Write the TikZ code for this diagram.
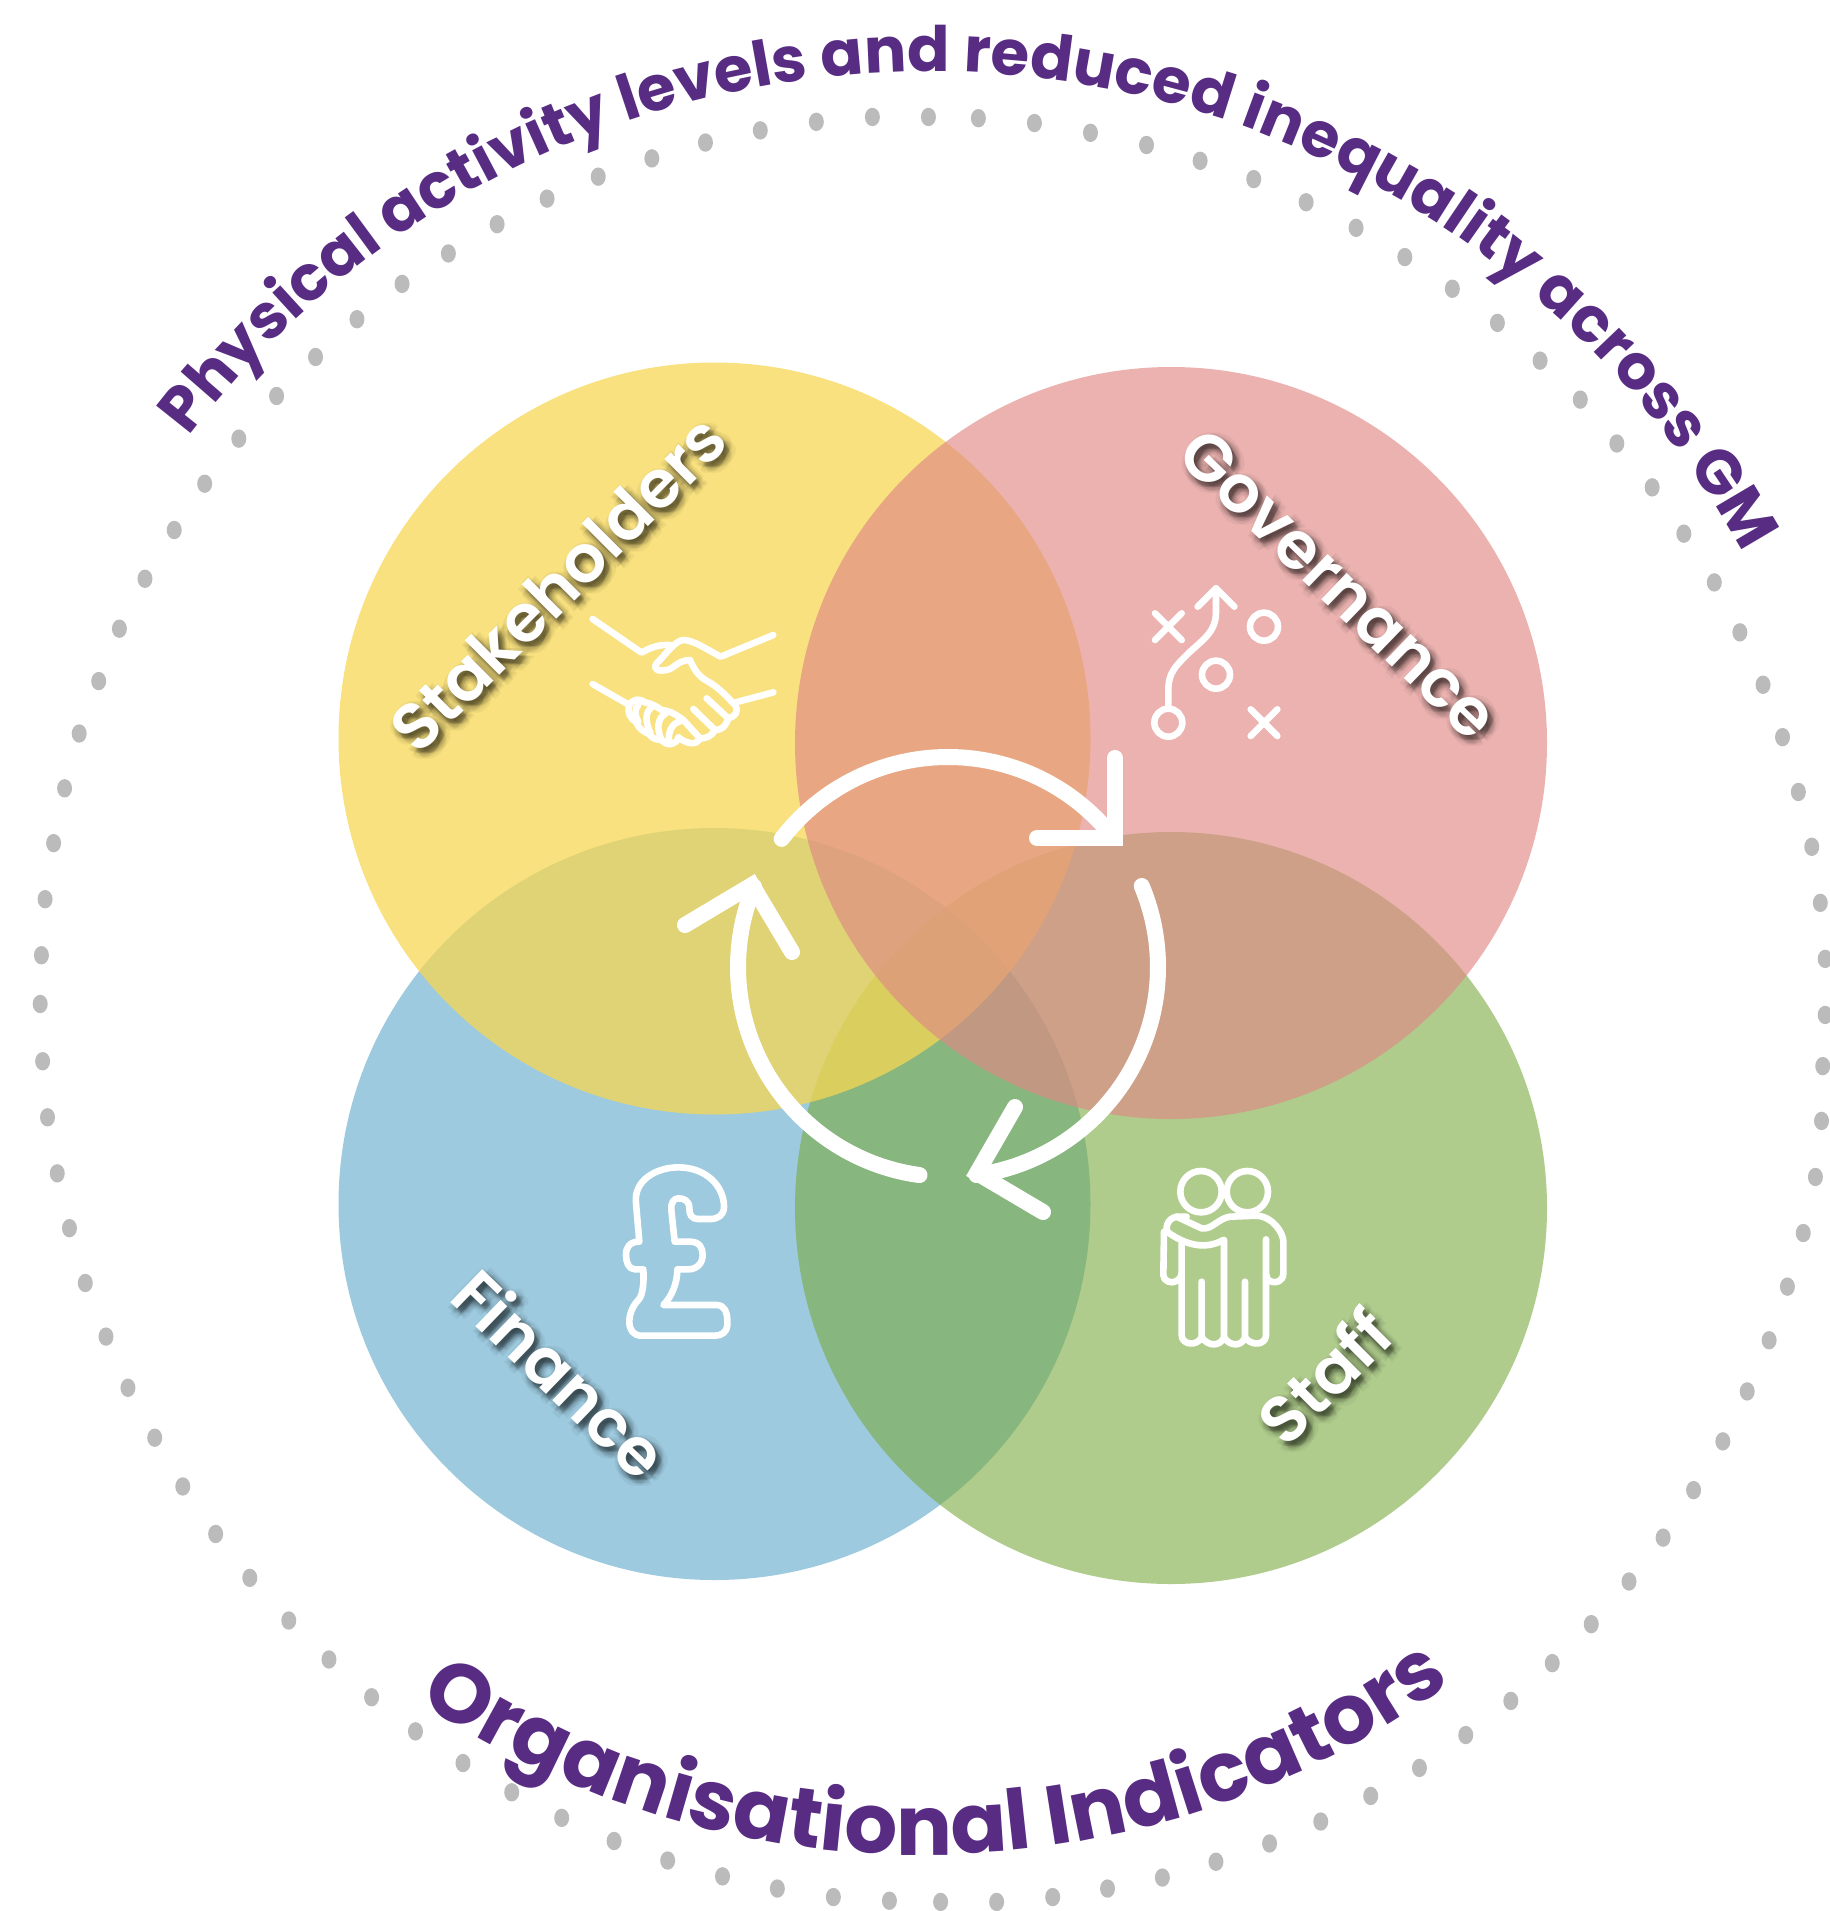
\documentclass[tikz,border=0pt]{standalone}
\usepackage{fontspec}
\usetikzlibrary{decorations.text}
\setmainfont{Poppins}
\newfontfamily\labelfont{Poppins SemiBold}
\newfontfamily\titlefont{Poppins}[UprightFont=* Bold]
\definecolor{titlepurple}{HTML}{582C83}
\definecolor{dotgray}{HTML}{BBBBBB}
\definecolor{cblue}{HTML}{9DCADF}
\definecolor{cgreen}{RGB}{122,170,63}
\definecolor{cyellow}{RGB}{246,215,83}
\definecolor{cpink}{RGB}{224,137,133}
\tikzset{
  icon/.style={draw=white,line width=3.3pt,line cap=round,line join=round},
  cyc/.style={draw=white,line width=8pt,line cap=round,line join=miter},
  crop/.style={x=0.16667pt,y=-0.16667pt},
  lab/.style={font=\labelfont\fontsize{33pt}{33pt}\selectfont,text=white,inner sep=0pt},
  shad/.style={font=\labelfont\fontsize{33pt}{33pt}\selectfont,text=black,text opacity=0.045,inner sep=0pt}
}
\newcommand{\shadowlabel}[4]{%
  \foreach \sr in {1,3,5,7.5}{\foreach \sa in {0,60,...,300}{
    \node[shad,rotate=#3] at ([shift={(\sa:\sr)}]#1+4,#2+5) {#4};}}
  \node[lab,rotate=#3] (#4) at (#1,#2) {#4};
}
\begin{document}
\begin{tikzpicture}[x=0.5pt,y=-0.5pt]
\useasboundingbox (0,0) rectangle (1830,1911);
\foreach \dx/\dy in {762/96,803/97,849/101,895/109,941/119,985/132,1029/147,1072/166,1113/187,1153/211,1192/237,1229/265,1264/296,1297/328,1327/364,1356/400,1382/438,1407/478,1428/519,1447/562,1463/605,1476/650,1487/695,1494/741,1498/787,1498/833,1496/875,1495/920,1490/966,1480/1012,1467/1056,1452/1100,1434/1142,1414/1183,1390/1223,1365/1262,1337/1298,1306/1333,1274/1365,1240/1396,1203/1424,1165/1451,1125/1474,1084/1495,1042/1513,998/1528,954/1541,909/1550,864/1557,818/1561,772/1561,730/1560,684/1557,638/1550,593/1540,548/1527,504/1511,461/1492,420/1471,380/1447,341/1421,305/1393,270/1362,237/1330,205/1295,177/1259,150/1220,127/1180,105/1139,87/1097,70/1053,57/1008,47/963,39/917,35/871,33/824,34/784,37/738,44/692,53/647,65/602,81/559,98/516,119/475,143/435,168/397,196/360,227/325,259/293,293/262,330/233,368/208,408/184,449/163,491/145,535/130,579/117,624/107,670/100,716/96}{
  \fill[dotgray] (\dx*1.2184,\dy*1.2184) circle[x radius=7.5,y radius=9.2];
}
\fill[cblue] (714.5,1204) circle[radius=376];
\fill[cgreen,opacity=.6] (1171,1208) circle[radius=376];
\fill[cyellow,opacity=.75] (714.5,738.5) circle[radius=376];
\fill[cpink,opacity=.65] (1171,743) circle[radius=376];
% curved texts
\coordinate (topc) at (928,1002);
\coordinate (botc) at (922,955);
\path[decorate,decoration={text along path,text align=center,
  text={|\titlefont\fontsize{31.3pt}{31.3pt}\selectfont\color{titlepurple}|Physical activity levels and reduced inequality across GM}}]
  ([shift={(-151.2:930.5)}]topc) arc[start angle=-151.2,end angle=-20.2,radius=930.5];
\path[decorate,decoration={text along path,text align=center,
  text={|\titlefont\fontsize{41.6pt}{41.6pt}\selectfont\color{titlepurple}|Organisational Indicators}}]
  ([shift={(126:900)}]botc) arc[start angle=126,end angle=52,radius=900];
% labels
\shadowlabel{558}{583}{45}{Stakeholders}
\shadowlabel{1339}{584}{-44}{Governance}
\shadowlabel{561}{1373}{-44}{Finance}
\shadowlabel{1324}{1376}{45}{Staff}
% handshake
\begin{scope}[shift={(560,590)},crop]
\draw[icon] (98,87) -- (245,188) .. controls (270,172) and (300,163) .. (330,165);
\draw[icon] (640,135) -- (482,200) .. controls (440,178) and (400,150) .. (370,150)
  .. controls (345,152) and (320,190) .. (290,220) .. controls (275,240) and (300,245) .. (320,240)
  .. controls (345,235) and (350,212) .. (390,210) .. controls (405,245) and (420,262) .. (445,275)
  .. controls (480,295) and (505,325) .. (525,345) .. controls (538,365) and (525,380) .. (505,385)
  .. controls (495,415) and (480,420) .. (465,420) .. controls (450,445) and (430,445) .. (420,445)
  .. controls (410,465) and (385,465) .. (355,442);
\draw[icon] (640,307) -- (527,337);
\draw[icon] (98,282) -- (208,345);
\draw[icon] (440,325) -- (505,385);
\draw[icon] (400,357) -- (465,420);
\draw[icon] (208,345) .. controls (220,325) and (240,325) .. (255,337) .. controls (275,340) and (290,350) .. (305,360)
  .. controls (330,362) and (350,375) .. (370,390) -- (420,445);
\draw[icon] (208,345) .. controls (200,370) and (215,390) .. (228,395) .. controls (235,415) and (250,425) .. (267,432)
  .. controls (275,445) and (290,450) .. (305,450) .. controls (320,470) and (350,465) .. (355,442);
\draw[icon] (235,345) .. controls (222,355) and (225,380) .. (235,395);
\draw[icon] (275,352) .. controls (255,365) and (255,395) .. (272,430);
\draw[icon] (318,370) .. controls (290,385) and (290,420) .. (305,450);
\draw[icon] (358,395) .. controls (335,400) and (322,430) .. (328,458);
\end{scope}
% playbook
\begin{scope}[shift={(1130,570)},crop]
\draw[icon] (115,458) circle[radius=42];
\draw[icon] (258,314) circle[radius=42];
\draw[icon] (402,170) circle[radius=42];
\draw[icon] (75,130) -- (155,210) (155,130) -- (75,210);
\draw[icon] (362,418) -- (442,498) (442,418) -- (362,498);
\draw[icon] (115,410) -- (115,360) .. controls (115,310) and (135,290) .. (170,255)
  .. controls (215,210) and (258,190) .. (258,125) -- (258,55);
\draw[icon] (203,110) -- (258,55) -- (313,110);
\end{scope}
% pound
\begin{scope}[shift={(600,1150)},crop]
\draw[icon] (118,275) -- (108,160) .. controls (100,90) and (170,52) .. (235,52)
  .. controls (320,52) and (372,110) .. (372,170) .. controls (372,195) and (355,207) .. (330,207)
  -- (295,207) .. controls (275,207) and (268,195) .. (268,175) .. controls (268,150) and (250,145) .. (235,145)
  .. controls (220,145) and (212,160) .. (214,180) -- (224,275) -- (270,275)
  .. controls (300,275) and (308,295) .. (308,315) .. controls (308,340) and (290,358) .. (265,358)
  -- (232,358) .. controls (232,400) and (215,440) .. (190,465) -- (350,465)
  .. controls (375,465) and (382,490) .. (382,510) -- (382,525) .. controls (382,545) and (365,557) .. (345,557)
  -- (125,557) .. controls (100,557) and (88,540) .. (88,515) .. controls (88,490) and (100,465) .. (115,450)
  .. controls (130,435) and (132,390) .. (130,358) -- (105,358) .. controls (85,358) and (78,335) .. (78,315)
  .. controls (78,290) and (90,275) .. (118,275) -- cycle;
\end{scope}
% staff
\begin{scope}[shift={(1140,1150)},crop]
\draw[icon] (183,125) circle[radius=62];
\draw[icon] (322,125) circle[radius=62];
\draw[icon] (140,200) -- (110,200) .. controls (80,205) and (72,240) .. (88,250) .. controls (140,285) and (195,300) .. (250,270);
\draw[icon] (110,200) -- (185,235) .. controls (215,240) and (235,205) .. (270,200) -- (350,197)
  .. controls (400,200) and (430,250) .. (430,275) -- (430,370) .. controls (430,395) and (405,400) .. (395,395)
  .. controls (385,395) and (378,380) .. (378,370) -- (378,268);
\draw[icon] (72,245) -- (70,375) .. controls (70,395) and (95,400) .. (105,395) .. controls (120,390) and (125,375) .. (125,370);
\draw[icon] (125,280) -- (125,555) .. controls (125,585) and (170,590) .. (185,562) -- (185,395);
\draw[icon] (185,562) .. controls (205,590) and (240,590) .. (252,562) -- (252,270);
\draw[icon] (252,562) .. controls (270,590) and (305,590) .. (315,562) -- (315,395);
\draw[icon] (315,562) .. controls (335,590) and (378,585) .. (378,555) -- (378,370);
\end{scope}
% cycle arrows
\coordinate (cc) at (948,967);
\draw[cyc] ([shift={(-142.4:210)}]cc) arc[start angle=-142.4,end angle=-38.2,radius=210];
\draw[cyc] (1115,758) -- (1115,838) -- (1037,838);
\draw[cyc] ([shift={(-22.7:210)}]cc) arc[start angle=-22.7,end angle=82.2,radius=210];
\draw[cyc] (1015,1107) -- (977,1173) -- (1043,1212);
\draw[cyc] ([shift={(97.8:210)}]cc) arc[start angle=97.8,end angle=202.5,radius=210];
\draw[cyc] (685,925) -- (752,885) -- (792,952);
\end{tikzpicture}
\end{document}
